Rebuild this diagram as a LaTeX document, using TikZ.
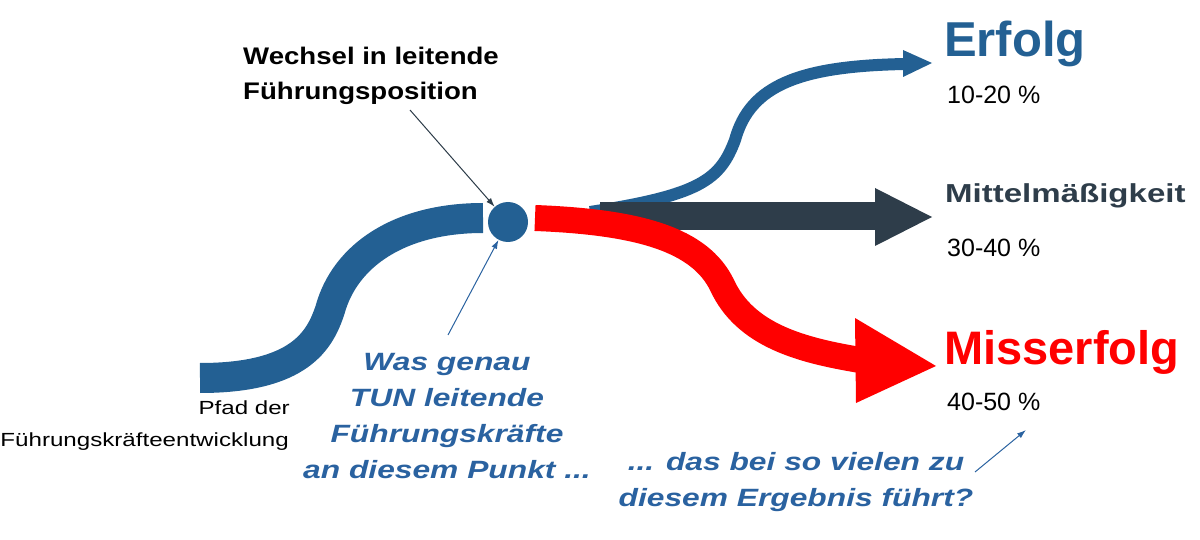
\documentclass[tikz,border=0pt]{standalone}
\usepackage{fontspec}
\setmainfont{Liberation Sans}
\newfontfamily\wide[FakeStretch=1.27]{Liberation Sans}
\newfontfamily\wideb[FakeStretch=1.15]{Liberation Sans}
\usetikzlibrary{arrows.meta}
\definecolor{bl}{HTML}{236093}
\definecolor{dk}{HTML}{2E3D4A}
\definecolor{rd}{HTML}{FF0000}
\definecolor{tb}{HTML}{2A62A0}
\begin{document}
\begin{tikzpicture}[x=1pt,y=-1pt,
  lbl/.style={font=\wideb\fontsize{24}{35}\selectfont\bfseries,inner sep=0pt},
  qst/.style={font=\wide\fontsize{25}{36}\selectfont\bfseries\itshape,text=tb,align=center,inner sep=0pt},
  thinarr/.style={-{Latex[length=9pt,width=6pt]},line width=1pt}]
\useasboundingbox (0,0) rectangle (1200,540);
% blue path
\draw[bl,line width=30pt] (200,378) .. controls (300,378) and (320,340) .. (330,310)
  .. controls (345,255) and (400,218) .. (483,218);
\node[circle,fill=bl,minimum size=40pt,inner sep=0pt] (pt) at (508,222) {};
% upper blue arrow
\coordinate (ua) at (905,64);
\draw[bl,line width=12pt] (590,212) .. controls (700,195) and (720,180) .. (735,140)
  .. controls (750,85) and (800,66) .. (ua);
\fill[bl] (903,50) -- (932,63) -- (903,77) -- cycle;
% dark arrow
\coordinate (da) at (878,216);
\draw[dk,line width=28pt] (600,216) -- (da);
\fill[dk] (875,188) -- (932,217) -- (875,246) -- cycle;
% red arrow
\coordinate (ra) at (860,360);
\draw[rd,line width=26pt] (535,218) .. controls (640,222) and (700,240) .. (722,285)
  .. controls (745,335) and (800,350) .. (ra);
\fill[rd] (855,318) -- (936,366) -- (856,403) -- cycle;
% texts
\node[lbl,anchor=west,align=left] (wt) at (243,76) {Wechsel in leitende\\Führungsposition};
\coordinate (wa) at (410,110);
\draw[thinarr,dk] (wa) -- (pt);
\node[anchor=west,inner sep=0pt,font=\fontsize{49}{49}\selectfont\bfseries,text=bl] (er) at (944,44) {Erfolg};
\node[anchor=west,inner sep=0pt,font=\fontsize{25}{25}\selectfont] (p1) at (947,95) {10-20 \%};
\node[anchor=west,inner sep=0pt,font=\wide\fontsize{26}{26}\selectfont\bfseries,text=dk] (mi) at (945,196) {Mittelmäßigkeit};
\node[anchor=west,inner sep=0pt,font=\fontsize{25}{25}\selectfont] (p2) at (947,248) {30-40 \%};
\node[anchor=west,inner sep=0pt,font=\fontsize{47}{47}\selectfont\bfseries,text=rd] (mf) at (944,352) {Misserfolg};
\node[anchor=west,inner sep=0pt,font=\fontsize{25}{25}\selectfont] (p3) at (947,402) {40-50 \%};
\node[anchor=east,inner sep=0pt,font=\wide\fontsize{19}{19}\selectfont] (pf) at (290,408) {Pfad der};
\node[anchor=east,inner sep=0pt,font=\wide\fontsize{19}{19}\selectfont] (fk) at (289,442) {Führungskräfteentwicklung};
\node[qst] (q1) at (447,416) {Was genau\\TUN leitende\\Führungskräfte\\an diesem Punkt ...};
\coordinate (qa) at (448,335);
\draw[thinarr,tb] (qa) -- (pt);
\node[qst] (q2) at (796,482) {... das bei so vielen zu\\diesem Ergebnis führt?};
\coordinate (qb) at (975,472);
\coordinate (qc) at (1026,430);
\draw[thinarr,tb] (qb) -- (qc);
\end{tikzpicture}
\end{document}
